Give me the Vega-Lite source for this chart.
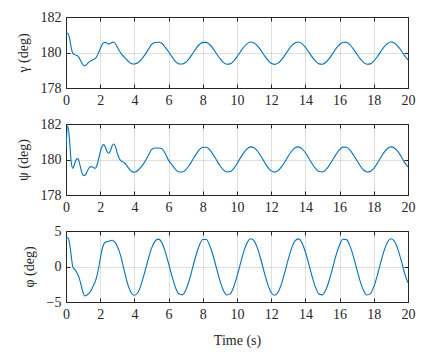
{
"$schema": "https://vega.github.io/schema/vega-lite/v6.json",
"padding": {"left": 15, "top": 9, "right": 5, "bottom": 5},
"background": "white",
"data": {"values": [
{"t":0.0,"g":181.1,"p":180.6,"f":3.8},
{"t":0.1,"g":181.08,"p":181.9,"f":4.05},
{"t":0.2,"g":180.85,"p":181.2,"f":3.4},
{"t":0.3,"g":180.3,"p":179.9,"f":1.6},
{"t":0.4,"g":179.95,"p":179.5,"f":-0.05},
{"t":0.5,"g":179.88,"p":179.75,"f":-0.4},
{"t":0.6,"g":179.85,"p":180.0,"f":-0.7},
{"t":0.7,"g":179.8,"p":180.05,"f":-1.2},
{"t":0.8,"g":179.65,"p":179.75,"f":-1.85},
{"t":0.9,"g":179.45,"p":179.35,"f":-2.8},
{"t":1.0,"g":179.3,"p":179.12,"f":-3.7},
{"t":1.1,"g":179.26,"p":179.1,"f":-4.15},
{"t":1.2,"g":179.32,"p":179.25,"f":-4.05},
{"t":1.3,"g":179.42,"p":179.45,"f":-3.85},
{"t":1.4,"g":179.5,"p":179.58,"f":-3.6},
{"t":1.5,"g":179.55,"p":179.6,"f":-3.2},
{"t":1.6,"g":179.6,"p":179.55,"f":-2.7},
{"t":1.7,"g":179.65,"p":179.5,"f":-2.2},
{"t":1.8,"g":179.78,"p":179.65,"f":-1.4},
{"t":1.9,"g":179.98,"p":180.0,"f":-0.3},
{"t":2.0,"g":180.2,"p":180.4,"f":1.0},
{"t":2.1,"g":180.42,"p":180.72,"f":2.3},
{"t":2.2,"g":180.55,"p":180.84,"f":3.1},
{"t":2.3,"g":180.57,"p":180.7,"f":3.4},
{"t":2.4,"g":180.52,"p":180.45,"f":3.5},
{"t":2.5,"g":180.48,"p":180.35,"f":3.55},
{"t":2.6,"g":180.52,"p":180.5,"f":3.65},
{"t":2.7,"g":180.57,"p":180.78,"f":3.7},
{"t":2.8,"g":180.58,"p":180.87,"f":3.55},
{"t":2.9,"g":180.48,"p":180.7,"f":3.3},
{"t":3.0,"g":180.3,"p":180.35,"f":2.85},
{"t":3.2,"g":179.97,"p":179.93,"f":1.5},
{"t":3.4,"g":179.75,"p":179.83,"f":-0.5},
{"t":3.6,"g":179.55,"p":179.6,"f":-2.4},
{"t":3.8,"g":179.38,"p":179.35,"f":-3.65},
{"t":4.0,"g":179.35,"p":179.28,"f":-4.05},
{"t":4.2,"g":179.42,"p":179.38,"f":-3.7},
{"t":4.4,"g":179.6,"p":179.58,"f":-2.5},
{"t":4.6,"g":179.85,"p":179.85,"f":-0.85},
{"t":4.8,"g":180.15,"p":180.2,"f":0.95},
{"t":5.0,"g":180.45,"p":180.55,"f":2.55},
{"t":5.2,"g":180.56,"p":180.65,"f":3.55},
{"t":5.4,"g":180.58,"p":180.65,"f":3.85},
{"t":5.6,"g":180.52,"p":180.62,"f":3.4},
{"t":5.8,"g":180.3,"p":180.35,"f":2.1},
{"t":6.0,"g":180.04,"p":179.95,"f":0.4},
{"t":6.2,"g":179.75,"p":179.7,"f":-1.4},
{"t":6.4,"g":179.5,"p":179.45,"f":-2.95},
{"t":6.6,"g":179.36,"p":179.3,"f":-3.85},
{"t":6.8,"g":179.35,"p":179.3,"f":-4.0},
{"t":7.0,"g":179.45,"p":179.42,"f":-3.35},
{"t":7.2,"g":179.66,"p":179.66,"f":-1.98},
{"t":7.4,"g":179.93,"p":179.97,"f":-0.23},
{"t":7.6,"g":180.22,"p":180.29,"f":1.55},
{"t":7.8,"g":180.45,"p":180.55,"f":3.0},
{"t":8.0,"g":180.57,"p":180.69,"f":3.81},
{"t":8.2,"g":180.57,"p":180.69,"f":3.81},
{"t":8.4,"g":180.45,"p":180.55,"f":3.0},
{"t":8.6,"g":180.22,"p":180.29,"f":1.55},
{"t":8.8,"g":179.93,"p":179.97,"f":-0.23},
{"t":9.0,"g":179.66,"p":179.66,"f":-1.98},
{"t":9.2,"g":179.44,"p":179.42,"f":-3.33},
{"t":9.4,"g":179.34,"p":179.3,"f":-4.01},
{"t":9.6,"g":179.36,"p":179.32,"f":-3.86},
{"t":9.8,"g":179.51,"p":179.49,"f":-2.92},
{"t":10.0,"g":179.75,"p":179.76,"f":-1.4},
{"t":10.2,"g":180.04,"p":180.09,"f":0.41},
{"t":10.4,"g":180.31,"p":180.39,"f":2.12},
{"t":10.6,"g":180.5,"p":180.61,"f":3.37},
{"t":10.8,"g":180.59,"p":180.71,"f":3.9},
{"t":11.0,"g":180.54,"p":180.66,"f":3.61},
{"t":11.2,"g":180.38,"p":180.47,"f":2.55},
{"t":11.4,"g":180.12,"p":180.18,"f":0.95},
{"t":11.6,"g":179.83,"p":179.86,"f":-0.87},
{"t":11.8,"g":179.57,"p":179.56,"f":-2.51},
{"t":12.0,"g":179.39,"p":179.36,"f":-3.66},
{"t":12.2,"g":179.33,"p":179.29,"f":-4.05},
{"t":12.4,"g":179.4,"p":179.37,"f":-3.62},
{"t":12.6,"g":179.58,"p":179.58,"f":-2.45},
{"t":12.8,"g":179.85,"p":179.87,"f":-0.78},
{"t":13.0,"g":180.14,"p":180.2,"f":1.04},
{"t":13.2,"g":180.39,"p":180.48,"f":2.62},
{"t":13.4,"g":180.55,"p":180.66,"f":3.64},
{"t":13.6,"g":180.59,"p":180.71,"f":3.89},
{"t":13.8,"g":180.5,"p":180.6,"f":3.32},
{"t":14.0,"g":180.29,"p":180.38,"f":2.04},
{"t":14.2,"g":180.02,"p":180.07,"f":0.32},
{"t":14.4,"g":179.74,"p":179.75,"f":-1.48},
{"t":14.6,"g":179.5,"p":179.48,"f":-2.99},
{"t":14.8,"g":179.36,"p":179.32,"f":-3.89},
{"t":15.0,"g":179.34,"p":179.3,"f":-3.99},
{"t":15.2,"g":179.45,"p":179.43,"f":-3.28},
{"t":15.4,"g":179.67,"p":179.67,"f":-1.9},
{"t":15.6,"g":179.95,"p":179.99,"f":-0.14},
{"t":15.8,"g":180.23,"p":180.3,"f":1.63},
{"t":16.0,"g":180.45,"p":180.56,"f":3.05},
{"t":16.2,"g":180.58,"p":180.7,"f":3.83},
{"t":16.4,"g":180.57,"p":180.69,"f":3.78},
{"t":16.6,"g":180.44,"p":180.54,"f":2.94},
{"t":16.8,"g":180.2,"p":180.27,"f":1.47},
{"t":17.0,"g":179.92,"p":179.96,"f":-0.32},
{"t":17.2,"g":179.65,"p":179.65,"f":-2.06},
{"t":17.4,"g":179.44,"p":179.41,"f":-3.38},
{"t":17.6,"g":179.34,"p":179.3,"f":-4.02},
{"t":17.8,"g":179.36,"p":179.33,"f":-3.83},
{"t":18.0,"g":179.52,"p":179.5,"f":-2.86},
{"t":18.2,"g":179.76,"p":179.78,"f":-1.31},
{"t":18.4,"g":180.05,"p":180.1,"f":0.5},
{"t":18.6,"g":180.32,"p":180.4,"f":2.19},
{"t":18.8,"g":180.51,"p":180.62,"f":3.41},
{"t":19.0,"g":180.59,"p":180.71,"f":3.91},
{"t":19.2,"g":180.54,"p":180.65,"f":3.58},
{"t":19.4,"g":180.36,"p":180.46,"f":2.48},
{"t":19.6,"g":180.11,"p":180.17,"f":0.86},
{"t":19.8,"g":179.82,"p":179.84,"f":-0.95},
{"t":20.0,"g":179.58,"p":179.58,"f":-2.3}
]},
"spacing": 36,
"bounds": "flush",
"vconcat": [
{
"width": 342, "height": 71,
"resolve": {"axis": {"x": "independent", "y": "independent"}},
"layer": [
{
"mark": {"type": "line", "color": "#0072BD", "strokeWidth": 1.1, "interpolate": "monotone", "clip": true},
"encoding": {
"x": {"field": "t", "type": "quantitative", "scale": {"domain": [0, 20], "nice": false},
"axis": {"values": [0,2,4,6,8,10,12,14,16,18,20], "title": null}},
"y": {"field": "g", "type": "quantitative", "scale": {"domain": [178, 182], "nice": false, "zero": false},
"axis": {"values": [178,180,182], "title": "γ (deg)"}}
}
},
{
"mark": {"type": "line", "color": "#0072BD", "opacity": 0, "interpolate": "monotone", "clip": true},
"encoding": {
"x": {"field": "t", "type": "quantitative",
"axis": {"orient": "top", "values": [0,2,4,6,8,10,12,14,16,18,20], "title": null, "labels": false, "grid": false}},
"y": {"field": "g", "type": "quantitative",
"axis": {"orient": "right", "values": [178,180,182], "title": null, "labels": false, "grid": false}}
}
}
]
},
{
"width": 342, "height": 71,
"resolve": {"axis": {"x": "independent", "y": "independent"}},
"layer": [
{
"mark": {"type": "line", "color": "#0072BD", "strokeWidth": 1.1, "interpolate": "monotone", "clip": true},
"encoding": {
"x": {"field": "t", "type": "quantitative", "scale": {"domain": [0, 20], "nice": false},
"axis": {"values": [0,2,4,6,8,10,12,14,16,18,20], "title": null}},
"y": {"field": "p", "type": "quantitative", "scale": {"domain": [178, 182], "nice": false, "zero": false},
"axis": {"values": [178,180,182], "title": "ψ (deg)"}}
}
},
{
"mark": {"type": "line", "color": "#0072BD", "opacity": 0, "interpolate": "monotone", "clip": true},
"encoding": {
"x": {"field": "t", "type": "quantitative",
"axis": {"orient": "top", "values": [0,2,4,6,8,10,12,14,16,18,20], "title": null, "labels": false, "grid": false}},
"y": {"field": "p", "type": "quantitative",
"axis": {"orient": "right", "values": [178,180,182], "title": null, "labels": false, "grid": false}}
}
}
]
},
{
"width": 342, "height": 71,
"resolve": {"axis": {"x": "independent", "y": "independent"}},
"layer": [
{
"mark": {"type": "line", "color": "#0072BD", "strokeWidth": 1.1, "interpolate": "monotone", "clip": true},
"encoding": {
"x": {"field": "t", "type": "quantitative", "scale": {"domain": [0, 20], "nice": false},
"axis": {"values": [0,2,4,6,8,10,12,14,16,18,20], "title": "Time (s)"}},
"y": {"field": "f", "type": "quantitative", "scale": {"domain": [-5, 5], "nice": false},
"axis": {"values": [-5,0,5], "title": "φ (deg)"}}
}
},
{
"mark": {"type": "line", "color": "#0072BD", "opacity": 0, "interpolate": "monotone", "clip": true},
"encoding": {
"x": {"field": "t", "type": "quantitative",
"axis": {"orient": "top", "values": [0,2,4,6,8,10,12,14,16,18,20], "title": null, "labels": false, "grid": false}},
"y": {"field": "f", "type": "quantitative",
"axis": {"orient": "right", "values": [-5,0,5], "title": null, "labels": false, "grid": false}}
}
}
]
}
],
"config": {
"font": "Liberation Serif",
"view": {"stroke": "#262626", "strokeWidth": 1},
"axis": {
"domain": false,
"grid": true, "gridColor": "#262626", "gridOpacity": 0.15, "gridWidth": 1,
"ticks": true, "tickSize": -4, "tickColor": "#262626", "tickWidth": 1,
"labelFont": "Liberation Serif", "labelFontSize": 14, "labelColor": "#262626", "labelPadding": 9, "labelFlush": false, "labelOverlap": false,
"titleFont": "Liberation Serif", "titleFontSize": 14, "titleFontWeight": "normal", "titleColor": "#262626"
},
"axisY": {"titlePadding": 10},
"axisX": {"titlePadding": 12}
}
}
